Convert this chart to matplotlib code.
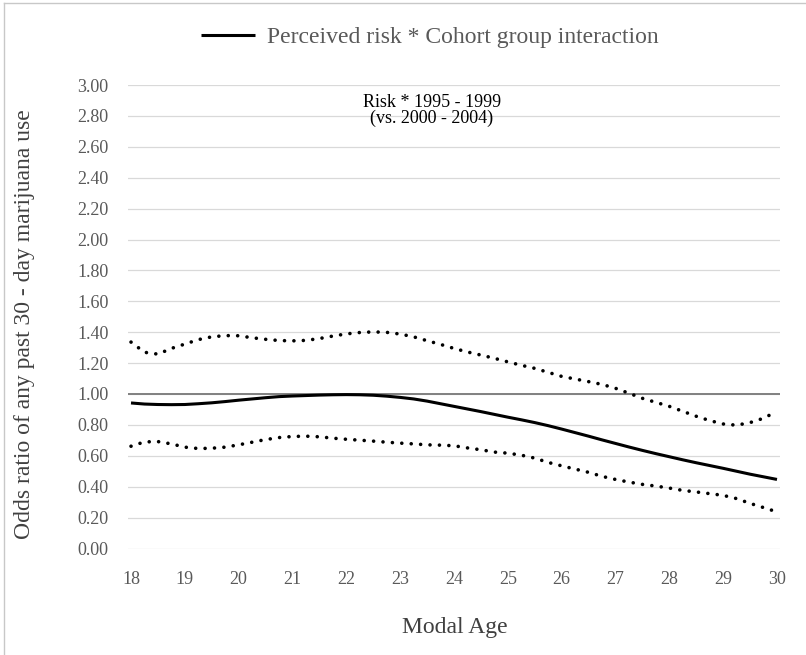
import matplotlib
matplotlib.use("Agg")
import matplotlib.pyplot as plt
from matplotlib.lines import Line2D

# Data
ages = [18.00, 18.25, 18.50, 18.75, 19.00, 19.25, 19.50, 19.75, 20.00, 20.25,
        20.50, 20.75, 21.00, 21.25, 21.50, 21.75, 22.00, 22.25, 22.50, 22.75,
        23.00, 23.25, 23.50, 23.75, 24.00, 24.25, 24.50, 24.75, 25.00, 25.25,
        25.50, 25.75, 26.00, 26.25, 26.50, 26.75, 27.00, 27.25, 27.50, 27.75,
        28.00, 28.25, 28.50, 28.75, 29.00, 29.25, 29.50, 29.75, 30.00]

odds_ratio = [0.942, 0.935, 0.932, 0.931, 0.932, 0.937, 0.943, 0.951, 0.960, 0.968,
              0.976, 0.983, 0.987, 0.990, 0.993, 0.995, 0.996, 0.995, 0.992, 0.986,
              0.978, 0.968, 0.954, 0.937, 0.920, 0.903, 0.886, 0.868, 0.850, 0.833,
              0.815, 0.795, 0.773, 0.750, 0.727, 0.703, 0.680, 0.657, 0.635, 0.614,
              0.594, 0.574, 0.555, 0.537, 0.519, 0.500, 0.481, 0.464, 0.447]

upper_ci = [1.336, 1.270, 1.258, 1.295, 1.323, 1.352, 1.370, 1.378, 1.377, 1.364,
            1.354, 1.346, 1.344, 1.347, 1.359, 1.375, 1.389, 1.398, 1.402, 1.399,
            1.388, 1.370, 1.345, 1.321, 1.295, 1.272, 1.252, 1.231, 1.208, 1.186,
            1.166, 1.140, 1.114, 1.097, 1.080, 1.062, 1.037, 1.005, 0.972, 0.946,
            0.920, 0.888, 0.856, 0.828, 0.806, 0.798, 0.815, 0.843, 0.888]

lower_ci = [0.662, 0.690, 0.692, 0.677, 0.656, 0.647, 0.649, 0.656, 0.671, 0.688,
            0.705, 0.718, 0.725, 0.727, 0.723, 0.714, 0.707, 0.701, 0.695, 0.688,
            0.682, 0.677, 0.671, 0.669, 0.665, 0.651, 0.639, 0.624, 0.617, 0.604,
            0.585, 0.557, 0.535, 0.514, 0.493, 0.467, 0.447, 0.430, 0.415, 0.404,
            0.391, 0.376, 0.366, 0.355, 0.344, 0.323, 0.292, 0.265, 0.237]

x_ticks = [18, 19, 20, 21, 22, 23, 24, 25, 26, 27, 28, 29, 30]
y_ticks = [0.0, 0.2, 0.4, 0.6, 0.8, 1.0, 1.2, 1.4, 1.6, 1.8, 2.0, 2.2, 2.4, 2.6, 2.8, 3.0]

plt.rcParams['font.family'] = ['Liberation Serif', 'DejaVu Serif']

W, H = 806, 655
fig = plt.figure(figsize=(W / 100, H / 100), dpi=100)
ax = fig.add_axes([128 / W, 1 - 548.5 / H, 652 / W, 463.5 / H])

# gridlines + reference line at 1.00
for v in y_ticks:
    ax.axhline(v, color='#d9d9d9', lw=0.9, zorder=1)
ax.axhline(1.0, color='#808080', lw=1.4, zorder=2)

dot_style = (0, (0.01, 2.6))
ax.plot(ages, upper_ci, color='black', lw=2.6, linestyle=dot_style,
        dash_capstyle='round', zorder=3)
ax.plot(ages, lower_ci, color='black', lw=2.6, linestyle=dot_style,
        dash_capstyle='round', zorder=3)
main_line, = ax.plot(ages, odds_ratio, color='black', lw=2.2, zorder=4,
                     solid_capstyle='butt',
                     label='Perceived risk * Cohort group interaction')

ax.set_xlim(17.944, 30.056)
ax.set_ylim(0, 3)
ax.set_xticks(x_ticks)
ax.set_xticklabels([str(t) for t in x_ticks])
ax.set_yticks(y_ticks)
ax.set_yticklabels(['%.2f' % t for t in y_ticks])
ax.tick_params(axis='both', length=0, labelsize=13, labelcolor='#595959')
ax.tick_params(axis='y', pad=14)
ax.tick_params(axis='x', pad=16)
for s in ax.spines.values():
    s.set_visible(False)

ax.set_xlabel('Modal Age', fontsize=17, color='#404040')
ax.xaxis.set_label_coords(0.5015, -0.148)
ax.set_ylabel('Odds ratio of any past 30 - day marijuana use', fontsize=17,
              color='#404040')
ax.yaxis.set_label_coords(-0.1426, 0.484)

ax.text(0.466, 0.945, 'Risk * 1995 - 1999\n(vs. 2000 - 2004)', transform=ax.transAxes,
        ha='center', va='center', fontsize=13, linespacing=0.85, color='black',
        zorder=5)

fig.legend(handles=[main_line], loc='center', bbox_to_anchor=(430 / W, 1 - 37 / H),
           frameon=False, fontsize=17, handlelength=2.3, handletextpad=0.5,
           labelcolor='#595959')

# thin light border of the chart area
fig.add_artist(Line2D([4 / W, 4 / W], [0, 1 - 3 / H], transform=fig.transFigure,
                      color='#c8c8c8', lw=1))
fig.add_artist(Line2D([4 / W, 1], [1 - 3 / H, 1 - 3 / H], transform=fig.transFigure,
                      color='#c8c8c8', lw=1))

fig.savefig('out.png', dpi=100)
